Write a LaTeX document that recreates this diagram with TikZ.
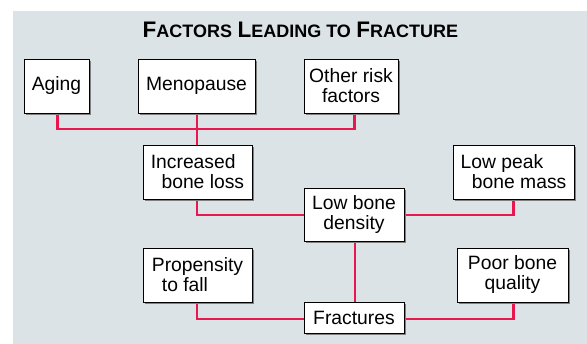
\documentclass[tikz,border=0pt]{standalone}
\usepackage{fontspec}
\setmainfont{Liberation Sans}
\usetikzlibrary{shadows}
\definecolor{panel}{HTML}{DCE3E7}
\definecolor{linkred}{HTML}{E8174F}
\pgfdeclarelayer{bg}
\pgfdeclarelayer{links}
\pgfsetlayers{bg,links,main}
\newcommand{\bigc}[1]{{\fontsize{22.5}{24}\selectfont #1}}
\newcommand{\smc}[1]{{\fontsize{18}{24}\selectfont #1}}
\tikzset{
  factor/.style={draw=black, line width=0.9pt, fill=white, inner sep=0pt, align=center,
    font=\fontsize{19.3}{20}\selectfont,
    drop shadow={shadow xshift=2pt, shadow yshift=-2pt, opacity=1, fill=black!50}},
  link/.style={draw=linkred, line width=2.4pt}
}
\begin{document}
\begin{tikzpicture}[x=1pt,y=-1pt]
\begin{pgfonlayer}{bg}
\fill[panel] (13.3,11) rectangle (587,344);
\end{pgfonlayer}
\useasboundingbox (0,0) rectangle (587,344);
\node[anchor=base, font=\bfseries] (title) at (300.4,37.7) {\bigc{F}\smc{ACTORS}\hspace{5.5pt}\bigc{L}\smc{EADING TO}\hspace{5.5pt}\bigc{F}\smc{RACTURE}};
\node[factor, minimum width=65pt, minimum height=54pt] (aging) at (56.5,86) {Aging};
\node[factor, minimum width=117pt, minimum height=54pt] (meno) at (196.5,86) {Menopause};
\node[factor, minimum width=94pt, minimum height=54pt] (other) at (351,86) {Other risk\\factors};
\node[factor, align=left, minimum width=109pt, minimum height=54pt] (incr) at (197.5,172) {Increased\\\hspace*{10.7pt}bone loss};
\node[factor, align=left, minimum width=121pt, minimum height=54pt] (peak) at (513.5,172) {Low peak\\\hspace*{11.3pt}bone mass};
\node[factor, minimum width=100pt, minimum height=53pt] (lbd) at (354,214.5) {Low bone\\density};
\node[factor, align=left, minimum width=109pt, minimum height=54pt] (prop) at (197.5,275) {Propensity\\\hspace*{10pt}to fall};
\node[factor, minimum width=111pt, minimum height=54pt] (poor) at (512.5,275) {Poor bone\\quality};
\node[factor, minimum width=100pt, minimum height=31pt] (frac) at (354,317.5) {Fractures};
\coordinate (j1) at (196.7,129);
\coordinate (jo) at (354.5,129);
\coordinate (jm) at (196.7,215.3);
\coordinate (jb) at (196.7,319.3);
\coordinate (jr) at (513.3,215.3);
\coordinate (jq) at (513.3,319.3);
\begin{pgfonlayer}{links}
\draw[link] (aging.south -| 57.3,0) |- (j1) -- (jo) -- (other.south -| jo);
\draw[link] (meno.south -| j1) -- (j1) -- (incr.north -| j1);
\draw[link] (incr.south -| j1) -- (jm) -- (lbd.west |- jm);
\draw[link] (lbd.east |- jr) -- (jr) -- (peak.south -| jr);
\draw[link] (lbd.south -| 354.7,0) -- (frac.north -| 354.7,0);
\draw[link] (prop.south -| jb) -- (jb) -- (frac.west |- jb);
\draw[link] (frac.east |- jq) -- (jq) -- (poor.south -| jq);
\end{pgfonlayer}
\end{tikzpicture}
\end{document}
